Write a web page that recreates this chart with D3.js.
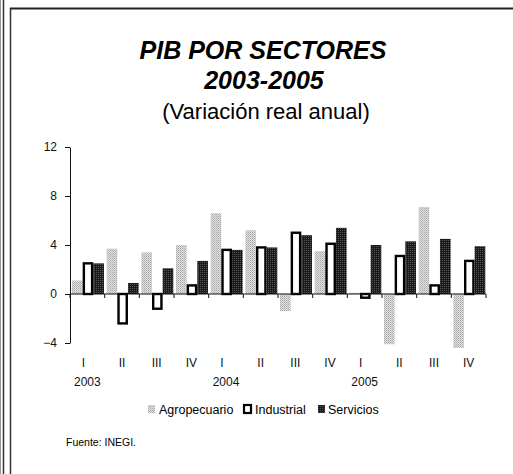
<!DOCTYPE html>
<html>
<head>
<meta charset="utf-8">
<script src="https://cdn.jsdelivr.net/npm/d3@7"></script>
<style>
  body { margin: 0; background: #fff; }
  svg { display: block; font-family: Arial, "Liberation Sans", sans-serif; }
  .axis path, .axis line { stroke: #111; stroke-width: 1; }
  .axis text { font-size: 12px; fill: #111; }
</style>
</head>
<body>
<div id="graph"></div>
<script>
// data
const quarters = ["I", "II", "III", "IV", "I", "II", "III", "IV", "I", "II", "III", "IV"];
const years = ["2003", "", "", "", "2004", "", "", "", "2005", "", "", ""];
const series = ["Agropecuario", "Industrial", "Servicios"];
const agropecuario = [1.1, 3.7, 3.4, 4.0, 6.6, 5.2, -1.4, 3.5, 0.1, -4.1, 7.1, -4.4];
const industrial = [2.6, -2.5, -1.3, 0.8, 3.7, 3.9, 5.1, 4.2, -0.4, 3.2, 0.8, 2.8];
const servicios = [2.5, 0.9, 2.1, 2.7, 3.6, 3.8, 4.8, 5.4, 4.0, 4.3, 4.5, 3.9];
const yTicks = [-4, 0, 4, 8, 12];

document.addEventListener('DOMContentLoaded', () => {
  let width = 513, height = 474, left = 70, right = 486, top = 147, bottom = 343;

  let svg = d3.select("#graph").append("svg").attr("width", width).attr("height", height);

  // stipple patterns like the scanned print
  let defs = svg.append("defs");
  let pa = defs.append("pattern").attr("id", "agro").attr("width", 2).attr("height", 2)
    .attr("patternUnits", "userSpaceOnUse");
  pa.append("rect").attr("width", 2).attr("height", 2).attr("fill", "#e2e2e2");
  pa.append("rect").attr("width", 1).attr("height", 1).attr("fill", "#a8a8a8");
  pa.append("rect").attr("x", 1).attr("y", 1).attr("width", 1).attr("height", 1).attr("fill", "#bcbcbc");
  let ps = defs.append("pattern").attr("id", "serv").attr("width", 2).attr("height", 2)
    .attr("patternUnits", "userSpaceOnUse");
  ps.append("rect").attr("width", 2).attr("height", 2).attr("fill", "#1a1a1a");
  ps.append("rect").attr("width", 1).attr("height", 1).attr("fill", "#555");

  // frame lines
  svg.append("line").attr("x1", 0.5).attr("x2", 0.5).attr("y1", 0).attr("y2", height).attr("stroke", "#999");
  svg.append("line").attr("x1", 3.5).attr("x2", 3.5).attr("y1", 0).attr("y2", height).attr("stroke", "#333").attr("stroke-width", 1.5);
  svg.append("line").attr("x1", 10.5).attr("x2", 10.5).attr("y1", 8).attr("y2", height).attr("stroke", "#333").attr("stroke-width", 1.5);
  svg.append("line").attr("x1", 10).attr("x2", width).attr("y1", 8.5).attr("y2", 8.5).attr("stroke", "#222").attr("stroke-width", 2);

  // titles
  svg.append("text").attr("x", 263).attr("y", 59).attr("text-anchor", "middle")
    .attr("font-size", 25).attr("font-weight", "bold").attr("font-style", "italic").text("PIB POR SECTORES");
  svg.append("text").attr("x", 264).attr("y", 89).attr("text-anchor", "middle")
    .attr("font-size", 25).attr("font-weight", "bold").attr("font-style", "italic").text("2003-2005");
  svg.append("text").attr("x", 266).attr("y", 119).attr("text-anchor", "middle")
    .attr("font-size", 22).text("(Variación real anual)");

  let idx = d3.range(quarters.length);
  let x = d3.scaleBand().domain(idx).range([left, right]);
  let x1 = d3.scaleBand().domain(series).range([2, x.bandwidth() - 0.7]);
  let y = d3.scaleLinear().domain([-4, 12]).range([bottom, top]);

  // y axis
  svg.append("g").attr("class", "axis").attr("transform", "translate(" + left + ",0)")
    .call(d3.axisLeft(y).tickValues(yTicks).tickSize(5).tickPadding(8).tickSizeOuter(0));

  // bars
  let values = {Agropecuario: agropecuario, Industrial: industrial, Servicios: servicios};
  let fills = {Agropecuario: "url(#agro)", Industrial: "#fff", Servicios: "url(#serv)"};
  series.forEach((s) => {
    let g = svg.append("g");
    g.selectAll("rect").data(idx).enter().append("rect")
      .attr("x", (i) => x(i) + x1(s) + (s === "Industrial" ? 1.2 : 0))
      .attr("y", (i) => y(Math.max(0, values[s][i])) + (s === "Industrial" ? (values[s][i] >= 0 ? 1.2 : 0) : 0))
      .attr("width", x1.bandwidth() - (s === "Industrial" ? 2.4 : 0))
      .attr("height", (i) => Math.abs(y(values[s][i]) - y(0)) - (s === "Industrial" ? 1.2 : 0))
      .attr("fill", fills[s])
      .attr("stroke", s === "Industrial" ? "#000" : "none")
      .attr("stroke-width", 2.4);
  });

  // x axis on the zero line, ticks between categories
  let xb = svg.append("g").attr("class", "axis");
  xb.append("line").attr("x1", left).attr("x2", right).attr("y1", y(0)).attr("y2", y(0)).attr("stroke", "#111");
  xb.selectAll(".tk").data(d3.range(quarters.length + 1)).enter().append("line")
    .attr("x1", (i) => left + i * x.step()).attr("x2", (i) => left + i * x.step())
    .attr("y1", y(0)).attr("y2", y(0) + 4).attr("stroke", "#111");
  xb.selectAll(".q").data(idx).enter().append("text")
    .attr("x", (i) => x(i) + x.bandwidth() / 2 - (quarters[i] === "I" ? 4 : 0)).attr("y", 367).attr("text-anchor", "middle")
    .text((i) => quarters[i]);
  xb.selectAll(".yr").data(idx.filter((i) => years[i])).enter().append("text")
    .attr("x", (i) => x(i) + x.bandwidth() / 2).attr("y", 386).attr("text-anchor", "middle")
    .text((i) => years[i]);

  // legend
  let lg = svg.append("g").attr("font-size", 12.5);
  let items = [
    {name: series[0], sx: 148, tx: 159},
    {name: series[1], sx: 244, tx: 255},
    {name: series[2], sx: 318, tx: 328}
  ];
  items.forEach((it) => {
    lg.append("rect").attr("x", it.sx).attr("y", 405).attr("width", 7).attr("height", 8)
      .attr("fill", fills[it.name])
      .attr("stroke", it.name === "Industrial" ? "#000" : "none").attr("stroke-width", 2.2);
    lg.append("text").attr("x", it.tx).attr("y", 414).text(it.name);
  });

  svg.append("text").attr("x", 66).attr("y", 446).attr("font-size", 10.5).text("Fuente: INEGI.");
});
</script>
</body>
</html>
